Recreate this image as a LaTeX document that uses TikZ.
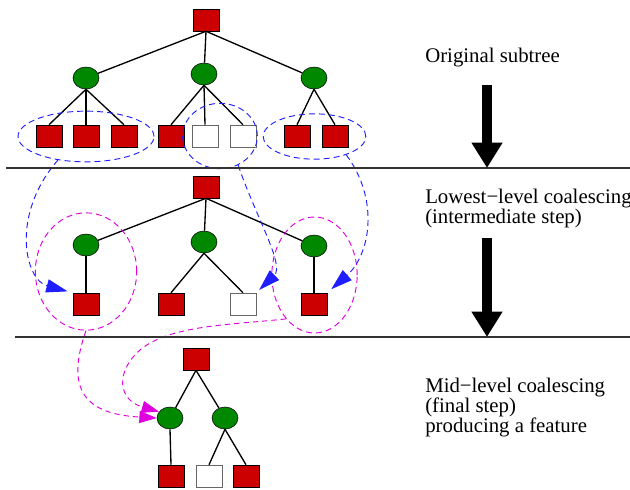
\documentclass[tikz,border=0pt]{standalone}
\usepackage{fontspec}
\setmainfont{Liberation Serif}
\usepackage{xcolor}
\usepackage{tikz}
\usetikzlibrary{shapes.geometric, arrows.meta}

\definecolor{leafred}{RGB}{204,0,0}
\definecolor{nodegreen}{RGB}{0,136,0}
\definecolor{grpblue}{RGB}{30,30,255}
\definecolor{grpmag}{RGB}{222,0,222}

\begin{document}
\begin{tikzpicture}[x=0.75pt, y=-0.75pt,
        redsq/.style={rectangle, draw, fill=leafred, inner sep=0pt,
        minimum width=19.5pt, minimum height=16.5pt},
        whsq/.style={rectangle, draw=black!60, fill=white, inner sep=0pt,
        minimum width=19.5pt, minimum height=16.5pt},
        grov/.style={ellipse, draw, fill=nodegreen, inner sep=0pt,
        minimum width=19.5pt, minimum height=16.5pt},
        link/.style={line width=1pt},
        bluegrp/.style={ellipse, draw=grpblue, dash pattern=on 4.5pt off 3pt,
        line width=0.7pt, inner sep=0pt},
        maggrp/.style={ellipse, draw=grpmag, dash pattern=on 4.5pt off 3pt,
        line width=0.7pt, inner sep=0pt},
        bluemove/.style={draw=grpblue, dash pattern=on 4.5pt off 3pt, line width=0.7pt,
        -{Triangle[length=16pt, width=10pt, fill=grpblue]}},
        magmove/.style={draw=grpmag, dash pattern=on 4pt off 3pt, line width=0.7pt,
        -{Triangle[length=13pt, width=9pt, fill=grpmag]}},
        bigarrow/.style={line width=7pt, -{Triangle[length=19pt, width=22pt]}},
        stage/.style={anchor=base west, align=left, inner sep=0pt,
        font=\fontsize{15.6pt}{15pt}\selectfont}]

        \useasboundingbox (0,0) rectangle (630,489);

        % original subtree
        \node[redsq] (R1) at (206,20) {};
        \node[grov] (C11) at (86,78) {};
        \node[grov] (C12) at (204,74) {};
        \node[grov] (C13) at (314,78) {};
        \node[redsq] (L11) at (49,136) {};
        \node[redsq] (L12) at (86,136) {};
        \node[redsq] (L13) at (124,136) {};
        \node[redsq] (L14) at (171,136) {};
        \node[whsq] (L15) at (205,136) {};
        \node[whsq] (L16) at (243,136) {};
        \node[redsq] (L17) at (297,136) {};
        \node[redsq] (L18) at (335,136) {};

        \draw[link] (R1.south) -- (C11);
        \draw[link] (R1.south) -- (C12);
        \draw[link] (R1.south) -- (C13);
        \draw[link] (C11.south) -- (L11.north);
        \draw[link] (C11.south) -- (L12.north);
        \draw[link] (C11.south) -- (L13.north);
        \draw[link] (C12.south) -- (L14.north);
        \draw[link] (C12.south) -- (L15.north);
        \draw[link] (C12.south) -- (L16.north);
        \draw[link] (C13.south) -- (L17.north);
        \draw[link] (C13.south) -- (L18.north);

        \node[bluegrp, minimum width=102pt, minimum height=38pt] (G11) at (86,136.5) {};
        \node[bluegrp, minimum width=56pt, minimum height=49pt] (G12) at (220,136) {};
        \node[bluegrp, minimum width=77pt, minimum height=34pt] (G13) at (314.5,136.5) {};

        % lowest-level coalescing
        \node[redsq] (R2) at (206,187) {};
        \node[grov] (C21) at (86,245) {};
        \node[grov] (C22) at (204,242) {};
        \node[grov] (C23) at (314,246) {};
        \node[redsq] (L21) at (86,304) {};
        \node[redsq] (L22) at (171,304) {};
        \node[whsq] (L23) at (243,304) {};
        \node[redsq] (L24) at (314,304) {};

        \draw[link] (R2.south) -- (C21);
        \draw[link] (R2.south) -- (C22);
        \draw[link] (R2.south) -- (C23);
        \draw[link] (C21.south) -- (L21.north);
        \draw[link] (C22.south) -- (L22.north);
        \draw[link] (C22.south) -- (L23.north);
        \draw[link] (C23.south) -- (L24.north);

        \node[maggrp, minimum width=76pt, minimum height=88pt] (G21) at (86,271.5) {};
        \node[maggrp, minimum width=64pt, minimum height=87pt] (G22) at (314.5,275) {};

        % mid-level coalescing
        \node[redsq] (R3) at (196,359) {};
        \node[grov] (C31) at (170,418) {};
        \node[grov] (C32) at (225,418) {};
        \node[redsq] (L31) at (171,476) {};
        \node[whsq] (L32) at (209,476) {};
        \node[redsq] (L33) at (246,476) {};

        \draw[link] (R3.south) -- (C31);
        \draw[link] (R3.south) -- (C32);
        \draw[link] (C31.south) -- (L31.north);
        \draw[link] (C32.south) -- (L32.north);
        \draw[link] (C32.south) -- (L33.north);

        % moves between levels
        \draw[bluemove, shorten >=4pt] (G11.220) .. controls (10,215) and (25,280) .. (L21.north west);
        \draw[bluemove, shorten >=3pt] (G12.302) .. controls (255,215) and (285,265) .. (L23.north east);
        \draw[bluemove, shorten >=4pt] (G13.330) .. controls (380,200) and (370,255) .. (L24.north east);
        \draw[magmove] (G21.270) .. controls (65,390) and (85,414) .. (C31.west);
        \draw[magmove] (G22.237) .. controls (230,325) and (170,325) .. (140,350)
                .. controls (115,372) and (118,400) .. (C31.150);

        % separators
        \draw[black!80, line width=0.8pt] (6,168) -- (630,168);
        \draw[black!80, line width=0.8pt] (15,337) -- (630,337);

        % stage texts and arrows
        \node[stage] (T1) at (425,62) {Original subtree};
        \node[stage] (T2) at (425,223) {Lowest−level coalescing\\(intermediate step)};
        \node[stage] (T3) at (425,432) {Mid−level coalescing\\(final step)\\producing a feature};

        \coordinate (A1) at (487,85);
        \coordinate (B1) at (487,168);
        \coordinate (A2) at (487,238);
        \coordinate (B2) at (487,337);
        \draw[bigarrow] (A1) -- (B1);
        \draw[bigarrow] (A2) -- (B2);
    \end{tikzpicture}
\end{document}
